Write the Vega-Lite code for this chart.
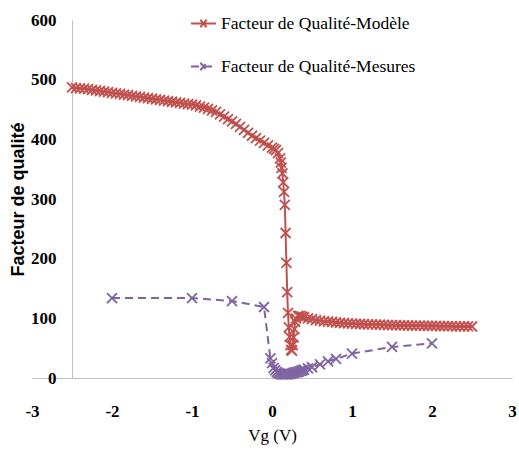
{
  "$schema": "https://vega.github.io/schema/vega-lite/v6.json",
  "width": 480,
  "height": 358,
  "autosize": {"type": "none"},
  "padding": {"left": 32, "top": 20, "right": 7, "bottom": 81},
  "background": "white",
  "config": {"view": {"stroke": null}, "font": "Liberation Sans Narrow"},
  "data": {"values": [
    {"s":"Facteur de Qualité-Modèle","vg":-2.5,"q":487},{"s":"Facteur de Qualité-Modèle","vg":-2.45,"q":486},{"s":"Facteur de Qualité-Modèle","vg":-2.4,"q":485.5},{"s":"Facteur de Qualité-Modèle","vg":-2.35,"q":485},{"s":"Facteur de Qualité-Modèle","vg":-2.3,"q":484},{"s":"Facteur de Qualité-Modèle","vg":-2.25,"q":483},{"s":"Facteur de Qualité-Modèle","vg":-2.2,"q":482},{"s":"Facteur de Qualité-Modèle","vg":-2.15,"q":481},{"s":"Facteur de Qualité-Modèle","vg":-2.1,"q":480},{"s":"Facteur de Qualité-Modèle","vg":-2.05,"q":479},
    {"s":"Facteur de Qualité-Modèle","vg":-2.0,"q":478},{"s":"Facteur de Qualité-Modèle","vg":-1.95,"q":477},{"s":"Facteur de Qualité-Modèle","vg":-1.9,"q":476},{"s":"Facteur de Qualité-Modèle","vg":-1.85,"q":475},{"s":"Facteur de Qualité-Modèle","vg":-1.8,"q":474},{"s":"Facteur de Qualité-Modèle","vg":-1.75,"q":473},{"s":"Facteur de Qualité-Modèle","vg":-1.7,"q":472},{"s":"Facteur de Qualité-Modèle","vg":-1.65,"q":471},{"s":"Facteur de Qualité-Modèle","vg":-1.6,"q":470},{"s":"Facteur de Qualité-Modèle","vg":-1.55,"q":469},
    {"s":"Facteur de Qualité-Modèle","vg":-1.5,"q":468},{"s":"Facteur de Qualité-Modèle","vg":-1.45,"q":467},{"s":"Facteur de Qualité-Modèle","vg":-1.4,"q":466},{"s":"Facteur de Qualité-Modèle","vg":-1.35,"q":465},{"s":"Facteur de Qualité-Modèle","vg":-1.3,"q":464},{"s":"Facteur de Qualité-Modèle","vg":-1.25,"q":463},{"s":"Facteur de Qualité-Modèle","vg":-1.2,"q":462},{"s":"Facteur de Qualité-Modèle","vg":-1.15,"q":461},{"s":"Facteur de Qualité-Modèle","vg":-1.1,"q":460},{"s":"Facteur de Qualité-Modèle","vg":-1.05,"q":459},
    {"s":"Facteur de Qualité-Modèle","vg":-1.0,"q":458},{"s":"Facteur de Qualité-Modèle","vg":-0.95,"q":457},{"s":"Facteur de Qualité-Modèle","vg":-0.9,"q":455},{"s":"Facteur de Qualité-Modèle","vg":-0.85,"q":453},{"s":"Facteur de Qualité-Modèle","vg":-0.8,"q":451},{"s":"Facteur de Qualité-Modèle","vg":-0.75,"q":448.5},{"s":"Facteur de Qualité-Modèle","vg":-0.7,"q":446},{"s":"Facteur de Qualité-Modèle","vg":-0.65,"q":442},{"s":"Facteur de Qualité-Modèle","vg":-0.6,"q":438},{"s":"Facteur de Qualité-Modèle","vg":-0.55,"q":434},
    {"s":"Facteur de Qualité-Modèle","vg":-0.5,"q":430},{"s":"Facteur de Qualité-Modèle","vg":-0.45,"q":426},{"s":"Facteur de Qualité-Modèle","vg":-0.4,"q":421},{"s":"Facteur de Qualité-Modèle","vg":-0.35,"q":416},{"s":"Facteur de Qualité-Modèle","vg":-0.3,"q":411},{"s":"Facteur de Qualité-Modèle","vg":-0.25,"q":406},{"s":"Facteur de Qualité-Modèle","vg":-0.2,"q":402},{"s":"Facteur de Qualité-Modèle","vg":-0.15,"q":398},{"s":"Facteur de Qualité-Modèle","vg":-0.1,"q":394},{"s":"Facteur de Qualité-Modèle","vg":-0.05,"q":390},
    {"s":"Facteur de Qualité-Modèle","vg":0.0,"q":386},{"s":"Facteur de Qualité-Modèle","vg":0.025,"q":384},{"s":"Facteur de Qualité-Modèle","vg":0.05,"q":382},{"s":"Facteur de Qualité-Modèle","vg":0.075,"q":377},{"s":"Facteur de Qualité-Modèle","vg":0.1,"q":368},{"s":"Facteur de Qualité-Modèle","vg":0.11,"q":361},{"s":"Facteur de Qualité-Modèle","vg":0.12,"q":352},{"s":"Facteur de Qualité-Modèle","vg":0.13,"q":343},{"s":"Facteur de Qualité-Modèle","vg":0.14,"q":328},{"s":"Facteur de Qualité-Modèle","vg":0.15,"q":312},
    {"s":"Facteur de Qualité-Modèle","vg":0.16,"q":290},{"s":"Facteur de Qualité-Modèle","vg":0.17,"q":243},{"s":"Facteur de Qualité-Modèle","vg":0.18,"q":193},{"s":"Facteur de Qualité-Modèle","vg":0.19,"q":144},{"s":"Facteur de Qualité-Modèle","vg":0.2,"q":109},{"s":"Facteur de Qualité-Modèle","vg":0.21,"q":85},{"s":"Facteur de Qualité-Modèle","vg":0.22,"q":69},{"s":"Facteur de Qualité-Modèle","vg":0.23,"q":55},{"s":"Facteur de Qualité-Modèle","vg":0.24,"q":47},{"s":"Facteur de Qualité-Modèle","vg":0.25,"q":46},
    {"s":"Facteur de Qualité-Modèle","vg":0.26,"q":55},{"s":"Facteur de Qualité-Modèle","vg":0.27,"q":68},{"s":"Facteur de Qualité-Modèle","vg":0.28,"q":82},{"s":"Facteur de Qualité-Modèle","vg":0.29,"q":94},{"s":"Facteur de Qualité-Modèle","vg":0.3,"q":100},{"s":"Facteur de Qualité-Modèle","vg":0.325,"q":104},{"s":"Facteur de Qualité-Modèle","vg":0.35,"q":104},{"s":"Facteur de Qualité-Modèle","vg":0.375,"q":103},{"s":"Facteur de Qualité-Modèle","vg":0.4,"q":102},{"s":"Facteur de Qualité-Modèle","vg":0.45,"q":100},
    {"s":"Facteur de Qualité-Modèle","vg":0.5,"q":98.5},{"s":"Facteur de Qualité-Modèle","vg":0.55,"q":97},{"s":"Facteur de Qualité-Modèle","vg":0.6,"q":96},{"s":"Facteur de Qualité-Modèle","vg":0.65,"q":95},{"s":"Facteur de Qualité-Modèle","vg":0.7,"q":94.5},{"s":"Facteur de Qualité-Modèle","vg":0.75,"q":94},{"s":"Facteur de Qualité-Modèle","vg":0.8,"q":93},{"s":"Facteur de Qualité-Modèle","vg":0.85,"q":92.5},{"s":"Facteur de Qualité-Modèle","vg":0.9,"q":92},{"s":"Facteur de Qualité-Modèle","vg":0.95,"q":91.5},
    {"s":"Facteur de Qualité-Modèle","vg":1.0,"q":91},{"s":"Facteur de Qualité-Modèle","vg":1.05,"q":90.8},{"s":"Facteur de Qualité-Modèle","vg":1.1,"q":90.5},{"s":"Facteur de Qualité-Modèle","vg":1.15,"q":90.2},{"s":"Facteur de Qualité-Modèle","vg":1.2,"q":90},{"s":"Facteur de Qualité-Modèle","vg":1.25,"q":89.8},{"s":"Facteur de Qualité-Modèle","vg":1.3,"q":89.5},{"s":"Facteur de Qualité-Modèle","vg":1.35,"q":89.3},{"s":"Facteur de Qualité-Modèle","vg":1.4,"q":89},{"s":"Facteur de Qualité-Modèle","vg":1.45,"q":88.8},
    {"s":"Facteur de Qualité-Modèle","vg":1.5,"q":88.6},{"s":"Facteur de Qualité-Modèle","vg":1.55,"q":88.5},{"s":"Facteur de Qualité-Modèle","vg":1.6,"q":88.3},{"s":"Facteur de Qualité-Modèle","vg":1.65,"q":88.2},{"s":"Facteur de Qualité-Modèle","vg":1.7,"q":88},{"s":"Facteur de Qualité-Modèle","vg":1.75,"q":87.9},{"s":"Facteur de Qualité-Modèle","vg":1.8,"q":87.8},{"s":"Facteur de Qualité-Modèle","vg":1.85,"q":87.6},{"s":"Facteur de Qualité-Modèle","vg":1.9,"q":87.5},{"s":"Facteur de Qualité-Modèle","vg":1.95,"q":87.4},
    {"s":"Facteur de Qualité-Modèle","vg":2.0,"q":87.3},{"s":"Facteur de Qualité-Modèle","vg":2.05,"q":87.2},{"s":"Facteur de Qualité-Modèle","vg":2.1,"q":87.1},{"s":"Facteur de Qualité-Modèle","vg":2.15,"q":87},{"s":"Facteur de Qualité-Modèle","vg":2.2,"q":86.9},{"s":"Facteur de Qualité-Modèle","vg":2.25,"q":86.8},{"s":"Facteur de Qualité-Modèle","vg":2.3,"q":86.7},{"s":"Facteur de Qualité-Modèle","vg":2.35,"q":86.6},{"s":"Facteur de Qualité-Modèle","vg":2.4,"q":86.5},{"s":"Facteur de Qualité-Modèle","vg":2.45,"q":86.4},{"s":"Facteur de Qualité-Modèle","vg":2.5,"q":86.3},
    {"s":"Facteur de Qualité-Mesures","vg":-2.0,"q":134},{"s":"Facteur de Qualité-Mesures","vg":-1.0,"q":134},{"s":"Facteur de Qualité-Mesures","vg":-0.5,"q":129},{"s":"Facteur de Qualité-Mesures","vg":-0.1,"q":119},{"s":"Facteur de Qualité-Mesures","vg":-0.02,"q":33},{"s":"Facteur de Qualité-Mesures","vg":0.0,"q":25},{"s":"Facteur de Qualité-Mesures","vg":0.02,"q":17},{"s":"Facteur de Qualité-Mesures","vg":0.04,"q":13},{"s":"Facteur de Qualité-Mesures","vg":0.06,"q":10},{"s":"Facteur de Qualité-Mesures","vg":0.08,"q":8},
    {"s":"Facteur de Qualité-Mesures","vg":0.1,"q":7},{"s":"Facteur de Qualité-Mesures","vg":0.12,"q":6},{"s":"Facteur de Qualité-Mesures","vg":0.14,"q":6},{"s":"Facteur de Qualité-Mesures","vg":0.16,"q":6},{"s":"Facteur de Qualité-Mesures","vg":0.18,"q":6},{"s":"Facteur de Qualité-Mesures","vg":0.2,"q":6},{"s":"Facteur de Qualité-Mesures","vg":0.22,"q":7},{"s":"Facteur de Qualité-Mesures","vg":0.24,"q":7},{"s":"Facteur de Qualité-Mesures","vg":0.26,"q":8},{"s":"Facteur de Qualité-Mesures","vg":0.28,"q":9},
    {"s":"Facteur de Qualité-Mesures","vg":0.3,"q":10},{"s":"Facteur de Qualité-Mesures","vg":0.32,"q":10},{"s":"Facteur de Qualité-Mesures","vg":0.34,"q":11},{"s":"Facteur de Qualité-Mesures","vg":0.36,"q":12},{"s":"Facteur de Qualité-Mesures","vg":0.38,"q":13},{"s":"Facteur de Qualité-Mesures","vg":0.4,"q":14},{"s":"Facteur de Qualité-Mesures","vg":0.45,"q":16},{"s":"Facteur de Qualité-Mesures","vg":0.5,"q":18},{"s":"Facteur de Qualité-Mesures","vg":0.6,"q":23},{"s":"Facteur de Qualité-Mesures","vg":0.7,"q":28},
    {"s":"Facteur de Qualité-Mesures","vg":0.8,"q":32},{"s":"Facteur de Qualité-Mesures","vg":1.0,"q":41},{"s":"Facteur de Qualité-Mesures","vg":1.5,"q":52},{"s":"Facteur de Qualité-Mesures","vg":2.0,"q":58}
  ]},
  "encoding": {
    "x": {"field": "vg", "type": "quantitative",
      "scale": {"domain": [-3, 3], "nice": false, "zero": false},
      "axis": {"title": "Vg (V)", "values": [-3, -2, -1, 0, 1, 2, 3], "grid": false, "ticks": false,
        "labelExpr": "'' + datum.value",
        "domainColor": "#BFBFBF", "domainWidth": 1,
        "labelFont": "Liberation Sans Narrow", "labelFontSize": 17, "labelFontWeight": "bold", "labelColor": "black",
        "labelPadding": 25, "labelFlush": false, "labelOverlap": false,
        "titleFont": "Liberation Sans Narrow", "titleFontSize": 17, "titleFontWeight": "normal", "titleColor": "black", "titlePadding": 8}},
    "y": {"field": "q", "type": "quantitative",
      "scale": {"domain": [0, 600], "nice": false},
      "axis": {"title": "Facteur de qualité", "values": [0, 100, 200, 300, 400, 500, 600], "grid": false, "ticks": false, "tickSize": 0,
        "offset": -40, "domainColor": "#BFBFBF", "domainWidth": 1,
        "labelFont": "Liberation Sans Narrow", "labelFontSize": 17, "labelFontWeight": "bold", "labelColor": "black",
        "labelPadding": 16, "labelFlush": false, "labelOverlap": false,
        "titleFont": "Liberation Sans", "titleFontSize": 18, "titleFontWeight": "bold", "titleColor": "black", "titlePadding": 3}},
    "color": {"field": "s", "type": "nominal",
      "scale": {"domain": ["Facteur de Qualité-Modèle", "Facteur de Qualité-Mesures"], "range": ["#C0504D", "#8064A2"]},
      "legend": {"title": null, "orient": "none", "legendX": 158, "legendY": -10,
        "symbolType": "M-1,0L1,0M-0.25,-0.3L0.25,0.3M-0.25,0.3L0.25,-0.3", "symbolSize": 625, "symbolStrokeWidth": 2,
        "rowPadding": 21, "labelOffset": 4, "labelFont": "Liberation Sans Narrow", "labelFontSize": 17.5, "labelColor": "black", "labelLimit": 400}}
  },
  "layer": [
    {"mark": {"type": "line", "strokeWidth": 2},
     "encoding": {"strokeDash": {"field": "s", "type": "nominal",
       "scale": {"domain": ["Facteur de Qualité-Modèle", "Facteur de Qualité-Mesures"], "range": [[1, 0], [8, 5]]},
       "legend": {"title": null, "orient": "none", "legendX": 158, "legendY": -10,
        "symbolType": "M-1,0L1,0M-0.25,-0.3L0.25,0.3M-0.25,0.3L0.25,-0.3", "symbolSize": 625, "symbolStrokeWidth": 2,
        "rowPadding": 21, "labelOffset": 4, "labelFont": "Liberation Sans Narrow", "labelFontSize": 17.5, "labelColor": "black", "labelLimit": 400}}}},
    {"mark": {"type": "point", "shape": "M-1,-1L1,1M-1,1L1,-1", "filled": false, "size": 100, "strokeWidth": 1.8, "opacity": 1}}
  ]
}
